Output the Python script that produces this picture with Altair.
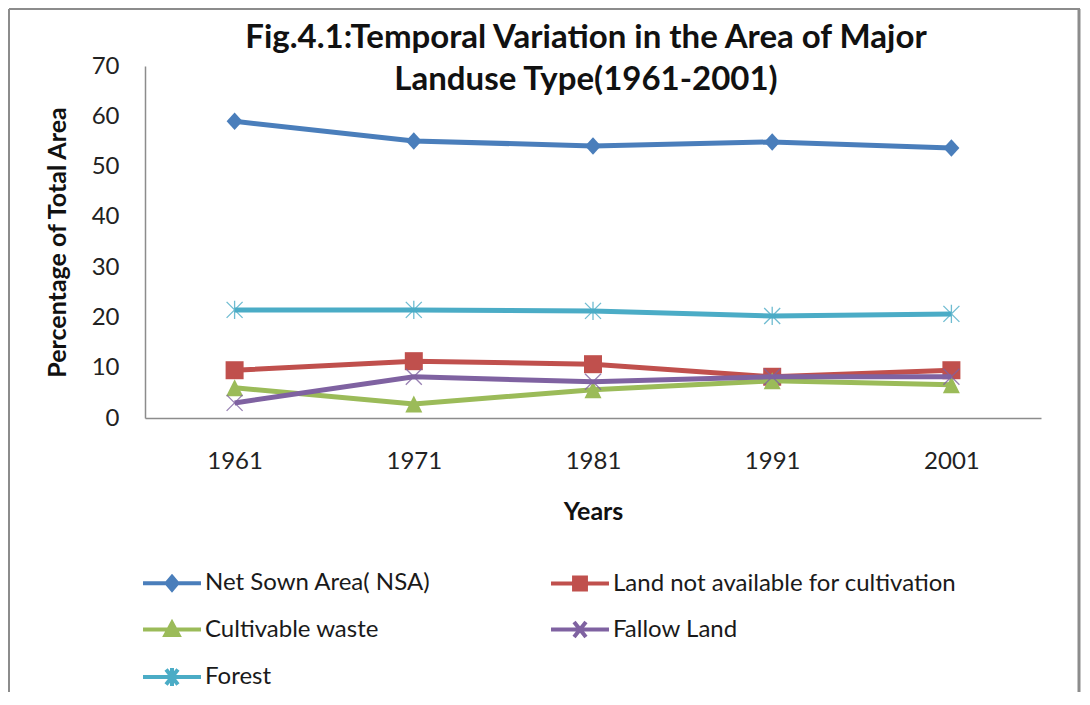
import altair as alt
import pandas as pd

# ---- data ----
years = ["1961", "1971", "1981", "1991", "2001"]
series_names = [
    "Net Sown Area( NSA)",
    "Land not available for cultivation",
    "Cultivable waste",
    "Fallow Land",
    "Forest",
]
nsa = [59.0, 55.1, 54.1, 54.9, 53.7]
land_na = [9.5, 11.3, 10.7, 8.2, 9.5]
cult_waste = [6.0, 2.8, 5.6, 7.4, 6.6]
fallow = [3.0, 8.2, 7.2, 8.2, 8.2]
forest = [21.5, 21.5, 21.3, 20.3, 20.7]
y_ticks = [0, 10, 20, 30, 40, 50, 60, 70]

colors = ["#4A7EBB", "#C0504D", "#9BBB59", "#7F62A1", "#4BACC6"]

# plot markers (custom paths, unit box)
marker_paths = [
    "M0,-1.1L1,0L0,1.1L-1,0Z",
    "M-1,-1H1V1H-1Z",
    "M0,-1L1,1H-1Z",
    "M-1,-1L1,1M-1,1L1,-1",
    "M-1,-1L1,1M-1,1L1,-1M0,-1.15V1.15",
]
marker_sizes = [256, 324, 289, 256, 256]
marker_filled = [True, True, True, False, False]

# legend symbols: line segment (+-29px) + marker; unit = 18px
legend_paths = [
    "M-1.61,0H1.61M0,-0.36L0.3,0L0,0.36L-0.3,0Z",
    "M-1.61,0H1.61M-0.33,-0.33H0.33V0.33H-0.33Z",
    "M-1.61,0H1.61M0,-0.36L0.36,0.3H-0.36Z",
    "M-1.61,0H1.61M-0.33,-0.42L0.33,0.42M-0.33,0.42L0.33,-0.42",
    "M-1.61,0H1.61M-0.33,-0.42L0.33,0.42M-0.33,0.42L0.33,-0.42M0,-0.5V0.5",
]

values_by_series = [nsa, land_na, cult_waste, fallow, forest]
rows = []
for name, vals in zip(series_names, values_by_series):
    for yr, v in zip(years, vals):
        rows.append({"year": yr, "series": name, "value": v})
df = pd.DataFrame(rows)

FONT = "Lato"

x_enc = alt.X(
    "year:O",
    sort=years,
    title="Years",
    axis=alt.Axis(
        labelAngle=0,
        labelFontSize=24,
        labelFont=FONT,
        labelColor="#222222",
        labelPadding=31,
        ticks=False,
        tickSize=0,
        domainColor="#8C8C8C",
        domainWidth=1.5,
        titleFont=FONT,
        titleFontSize=25,
        titleFontWeight="bold",
        titleColor="#111111",
        titlePadding=26,
    ),
)
y_enc = alt.Y(
    "value:Q",
    scale=alt.Scale(domain=[0, 70], nice=False),
    title="Percentage of Total Area",
    axis=alt.Axis(
        values=y_ticks,
        grid=False,
        labelFontSize=24,
        labelFont=FONT,
        labelColor="#222222",
        labelPadding=26,
        ticks=False,
        tickSize=0,
        domainColor="#8C8C8C",
        domainWidth=1.5,
        titleFont=FONT,
        titleFontSize=25,
        titleFontWeight="bold",
        titleColor="#111111",
        titlePadding=21,
    ),
)

base = alt.Chart(df)
layers = []
for i, name in enumerate(series_names):
    sub = base.transform_filter(alt.datum.series == name)
    line = sub.mark_line(color=colors[i], strokeWidth=5).encode(x=x_enc, y=y_enc)
    if marker_filled[i]:
        pt = sub.mark_point(
            shape=marker_paths[i], size=marker_sizes[i], filled=True,
            color=colors[i], opacity=1,
        )
    else:
        pt = sub.mark_point(
            shape=marker_paths[i], size=marker_sizes[i], filled=False,
            stroke=colors[i], strokeWidth=1.3, opacity=0.8,
        )
    layers.append(line)
    layers.append(pt.encode(x=x_enc, y=y_enc))

# legend-only layer (draws nothing)
legend = alt.Legend(
    title=None,
    orient="none",
    legendX=7,
    legendY=497,
    direction="horizontal",
    columns=2,
    columnPadding=112,
    rowPadding=11.5,
    labelFont=FONT,
    labelFontSize=24,
    labelColor="#1A1A1A",
    labelLimit=600,
    labelOffset=13,
    symbolSize=1296,
    symbolStrokeWidth=4,
    symbolOpacity=1,
    gridAlign="each",
)
legend_layer = base.transform_filter("false").mark_point().encode(
    x=x_enc,
    y=y_enc,
    fill=alt.Fill("series:N", scale=alt.Scale(domain=series_names, range=colors), legend=legend),
    stroke=alt.Stroke("series:N", scale=alt.Scale(domain=series_names, range=colors), legend=legend),
    shape=alt.Shape("series:N", scale=alt.Scale(domain=series_names, range=legend_paths), legend=legend),
)
layers.append(legend_layer)

# outer chart frame (decoration)
frame_df = pd.DataFrame({"k": [0]})
frame = alt.Chart(frame_df)
frame_left = frame.mark_rule(color="#8C8C8C", strokeWidth=2).encode(
    x=alt.value(-136), y=alt.value(-57), y2=alt.value(700)
)
frame_top = frame.mark_rule(color="#8C8C8C", strokeWidth=2).encode(
    x=alt.value(-136), x2=alt.value(935), y=alt.value(-57)
)
frame_right = frame.mark_rule(color="#8C8C8C", strokeWidth=3).encode(
    x=alt.value(934), y=alt.value(-57), y2=alt.value(700)
)

chart = alt.layer(frame_left, frame_top, frame_right, *layers).properties(
    width=896,
    height=352,
    padding={"left": 137, "top": 58, "right": 41, "bottom": 274},
    autosize=alt.AutoSizeParams(type="none"),
    background="white",
    title=alt.TitleParams(
        text=["Fig.4.1:Temporal Variation in the Area of Major", "Landuse Type(1961-2001)"],
        font=FONT,
        fontSize=33,
        fontWeight="bold",
        color="#111111",
        lineHeight=42,
        anchor="middle",
        frame="group",
        baseline="alphabetic",
        offset=0,
        dy=115,
        dx=-7,
    ),
).configure_view(stroke=None)

chart.save("out.html", embed_options={"renderer": "svg", "actions": False})
